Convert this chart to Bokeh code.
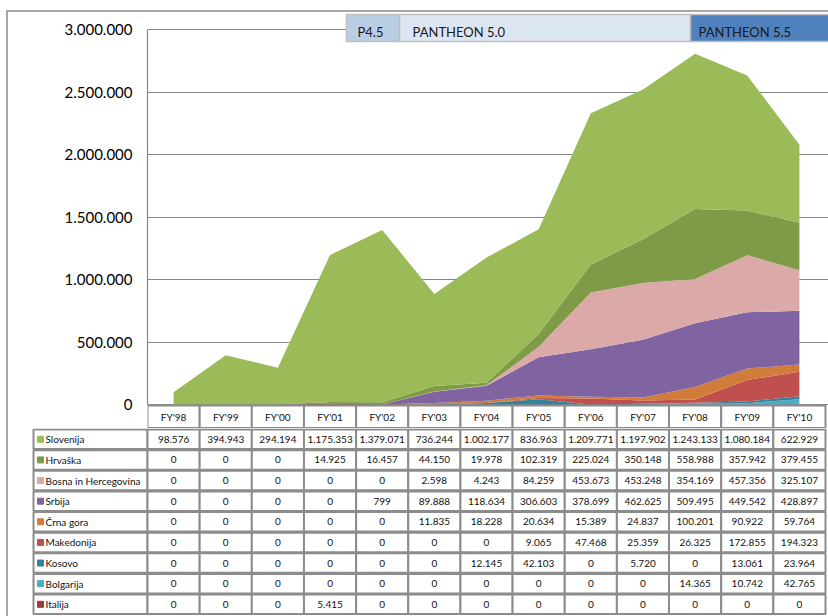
from bokeh.plotting import figure
from bokeh.models import Range1d, FixedTicker, ColumnDataSource
from bokeh.layouts import column
from bokeh.embed import file_html
from bokeh.resources import INLINE
from bokeh.core.properties import value

# ---------------- data ----------------
years = ["FY'98", "FY'99", "FY'00", "FY'01", "FY'02", "FY'03", "FY'04",
         "FY'05", "FY'06", "FY'07", "FY'08", "FY'09", "FY'10"]
series_names = ["Slovenija", "Hrvaška", "Bosna in Hercegovina", "Srbija",
                "Črna gora", "Makedonija", "Kosovo", "Bolgarija", "Italija"]
slovenija = [98576, 394943, 294194, 1175353, 1379071, 736244, 1002177,
             836963, 1209771, 1197902, 1243133, 1080184, 622929]
hrvaska = [0, 0, 0, 14925, 16457, 44150, 19978, 102319, 225024, 350148,
           558988, 357942, 379455]
bosna = [0, 0, 0, 0, 0, 2598, 4243, 84259, 453673, 453248, 354169,
         457356, 325107]
srbija = [0, 0, 0, 0, 799, 89888, 118634, 306603, 378699, 462625, 509495,
          449542, 428897]
crna_gora = [0, 0, 0, 0, 0, 11835, 18228, 20634, 15389, 24837, 100201,
             90922, 59764]
makedonija = [0, 0, 0, 0, 0, 0, 0, 9065, 47468, 25359, 26325, 172855,
              194323]
kosovo = [0, 0, 0, 0, 0, 0, 12145, 42103, 0, 5720, 0, 13061, 23964]
bolgarija = [0, 0, 0, 0, 0, 0, 0, 0, 0, 0, 14365, 10742, 42765]
italija = [0, 0, 0, 5415, 0, 0, 0, 0, 0, 0, 0, 0, 0]

series_values = [slovenija, hrvaska, bosna, srbija, crna_gora, makedonija,
                 kosovo, bolgarija, italija]
series_colors = ["#9bbb59", "#7f9b48", "#dba9a8", "#8064a2", "#d17c3a",
                 "#c0504d", "#31849b", "#4bacc6", "#9b3b38"]

y_ticks = [0, 500000, 1000000, 1500000, 2000000, 2500000, 3000000]
y_tick_labels = ["0", "500.000", "1.000.000", "1.500.000", "2.000.000",
                 "2.500.000", "3.000.000"]

banner_labels = ["P4.5", "PANTHEON 5.0", "PANTHEON 5.5"]
banner_colors = ["#b9cde5", "#dce6f2", "#4f81bd"]

# ---------------- layout constants (page pixels) ----------------
OFF = 0
W = 828
AX_X = 147
FRAME_R = 825
COL_W = (FRAME_R - AX_X) / 13.0
Y0_PAGE = 404
YTOP_PAGE = 29
PER_PX = 3000000 / (Y0_PAGE - YTOP_PAGE)
CHART_BOTTOM = 428
TABLE_BOTTOM = 616
FONT = "Lato"
GRID_COL = "#868686"
CELL_LINE = "#8c8c8c"
FRAME_COL = "#a6a6a6"


def px_to_x(px):
    return -0.5 + (px - AX_X) / COL_W


def fmt(v):
    return f"{v:,}".replace(",", ".")


n = len(years)
idx = list(range(n))

# ---------------- chart figure ----------------
p = figure(width=W, height=CHART_BOTTOM - OFF, output_backend="svg",
           toolbar_location=None, tools="",
           x_range=Range1d(-0.5, px_to_x(W + OFF)),
           y_range=Range1d(-(CHART_BOTTOM - Y0_PAGE) * PER_PX,
                           3000000 + (YTOP_PAGE - OFF) * PER_PX),
           min_border_left=AX_X - OFF, min_border_right=0,
           min_border_top=0, min_border_bottom=0,
           x_axis_location=None)
p.extra_y_ranges = {"px": Range1d(start=CHART_BOTTOM, end=OFF)}
p.outline_line_color = None
p.background_fill_color = None
p.border_fill_color = None
p.xgrid.visible = False
p.ygrid.ticker = FixedTicker(ticks=y_ticks)
p.ygrid.grid_line_color = GRID_COL
p.ygrid.grid_line_width = 1.2

ax = p.yaxis[0]
ax.ticker = FixedTicker(ticks=y_ticks)
ax.major_label_overrides = {t: l for t, l in zip(y_ticks, y_tick_labels)}
ax.bounds = (0, 3000000)
ax.axis_line_color = GRID_COL
ax.axis_line_width = 1.2
ax.major_tick_in = 0
ax.major_tick_out = 0
ax.minor_tick_in = 0
ax.minor_tick_out = 0
ax.major_label_standoff = 15
ax.major_label_text_font = FONT
ax.major_label_text_font_size = "15px"
ax.major_label_text_color = "#000000"

# outer frame top line (inside the plot frame part)
p.segment(x0=[-0.5], x1=[px_to_x(W + 5)], y0=[10.5], y1=[10.5],
          y_range_name="px", line_color=FRAME_COL, line_width=2)

# stacked areas (bottom -> top is reverse of table order)
keys = ["s%d" % i for i in range(len(series_names))]
data = {"x": idx}
for k, vals in zip(keys, series_values):
    data[k] = vals
src = ColumnDataSource(data)
stack_keys = keys[::-1]
stack_colors = series_colors[::-1]
p.varea_stack(stackers=stack_keys, x="x", color=stack_colors, source=src)

# header row of the table (years)
p.quad(left=[i - 0.5 for i in idx], right=[i + 0.5 for i in idx],
       top=[405] * n, bottom=[427.5] * n, y_range_name="px",
       fill_color="white", line_color=CELL_LINE, line_width=2)
p.text(x=idx, y=[416.5] * n, text=years, y_range_name="px",
       text_align="center", text_baseline="middle",
       text_font=value(FONT), text_font_size=value("10px"),
       text_color="#111111")

# banner
b_left = [px_to_x(346), px_to_x(399), px_to_x(690)]
b_right = [px_to_x(399), px_to_x(690), px_to_x(840)]
p.quad(left=b_left, right=b_right, top=[14] * 3, bottom=[41] * 3,
       y_range_name="px", fill_color=banner_colors, line_color="#bfbfbf",
       line_width=1.5)
p.text(x=[px_to_x(357), px_to_x(412), px_to_x(698)], y=[31.5] * 3,
       text=banner_labels, y_range_name="px", text_align="left",
       text_baseline="middle", text_font=value(FONT),
       text_font_size=value("13px"), text_color="#1a1a1a")

# ---------------- table figure ----------------
xs = px_to_x(OFF)
xe = px_to_x(OFF + W)
t = figure(width=W, height=TABLE_BOTTOM - CHART_BOTTOM, output_backend="svg",
           toolbar_location=None, tools="",
           x_range=Range1d(xs, xe),
           y_range=Range1d(start=TABLE_BOTTOM, end=CHART_BOTTOM),
           min_border=0, x_axis_location=None, y_axis_location=None)
t.outline_line_color = None
t.grid.visible = False
t.background_fill_color = None
t.border_fill_color = None

for fig in (p, t):
    if "frame_align" in fig.properties():
        fig.frame_align = False

ROW_TOP = 429
ROW_PITCH = 20.625
ROW_H = 19.6
nr = len(series_names)
row_top = [ROW_TOP + r * ROW_PITCH for r in range(nr)]
row_bot = [tp + ROW_H for tp in row_top]
row_mid = [(a + b) / 2 for a, b in zip(row_top, row_bot)]

# label cells
t.quad(left=[px_to_x(33)] * nr, right=[-0.5] * nr, top=row_top,
       bottom=row_bot, fill_color="white", line_color=CELL_LINE,
       line_width=2)
t.scatter(x=[px_to_x(40)] * nr, y=row_mid, marker="square", size=6,
          color=series_colors)
t.text(x=[px_to_x(45)] * nr, y=row_mid, text=series_names,
       text_align="left", text_baseline="middle",
       text_font=value(FONT), text_font_size=value("10px"),
       text_color="#111111")

# value cells
cl, cr, ct, cb, cx, cy, ctext = [], [], [], [], [], [], []
for r, vals in enumerate(series_values):
    for i, v in enumerate(vals):
        cl.append(i - 0.5)
        cr.append(i + 0.5)
        ct.append(row_top[r])
        cb.append(row_bot[r])
        cx.append(i)
        cy.append(row_mid[r])
        ctext.append(fmt(v))
t.quad(left=cl, right=cr, top=ct, bottom=cb, fill_color="white",
       line_color=CELL_LINE, line_width=2)
t.text(x=cx, y=cy, text=ctext, text_align="center", text_baseline="middle",
       text_font=value(FONT), text_font_size=value("10px"),
       text_color="#111111")

frame_styles = {
    "background-color": "white",
    "background-image": ("linear-gradient(%s, %s), linear-gradient(%s, %s)"
                         % (FRAME_COL, FRAME_COL, FRAME_COL, FRAME_COL)),
    "background-size": "2px 606px, 821px 2px",
    "background-position": "6px 10px, 7px 10px",
    "background-repeat": "no-repeat",
}
layout = column(p, t, spacing=0, styles=frame_styles)

open("out.html", "w").write(file_html(layout, INLINE))
